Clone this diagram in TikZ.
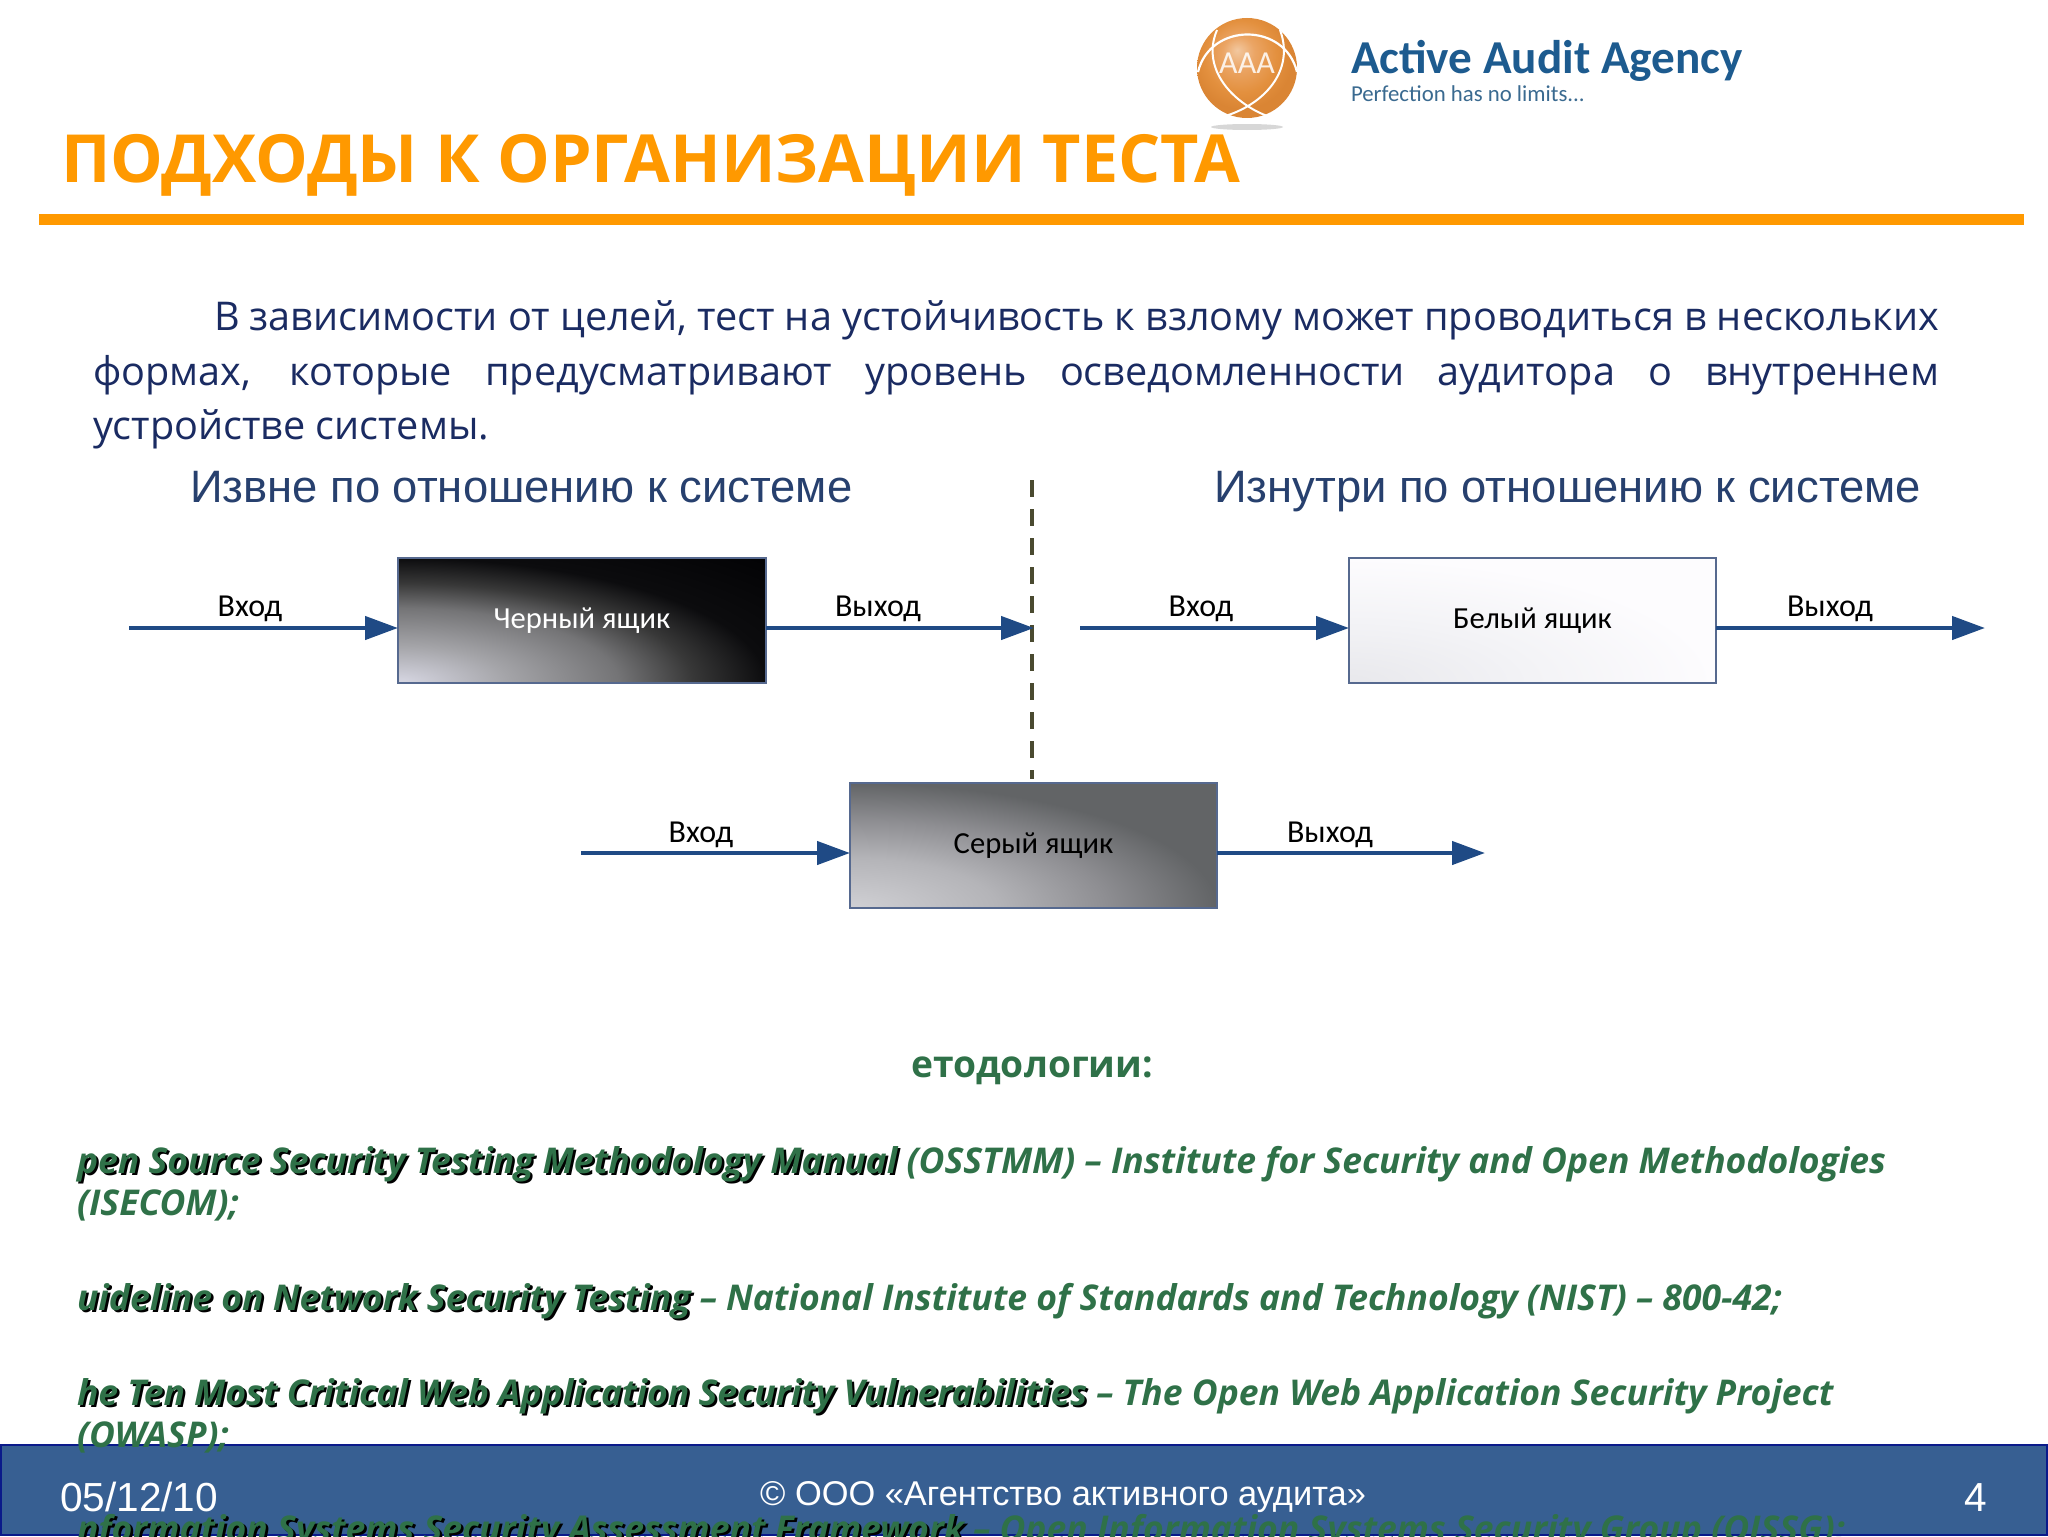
\documentclass[tikz,border=0pt]{standalone}
\usepackage{fontspec}
\setmainfont{Open Sans}
\newfontfamily\carl{Carlito}
\newfontfamily\lib{Liberation Sans}
\usetikzlibrary{arrows.meta}
\definecolor{orng}{HTML}{FF9900}
\definecolor{para}{HTML}{1A2B62}
\definecolor{head}{HTML}{27406E}
\definecolor{grn}{HTML}{2F7148}
\definecolor{arr}{HTML}{1F4A85}
\definecolor{foot}{HTML}{375F92}
\definecolor{footb}{HTML}{0A1A8A}
\definecolor{edge}{HTML}{56698F}
\definecolor{dashc}{HTML}{4A4A30}
\definecolor{logoc}{HTML}{1D5B8F}
\definecolor{logos}{HTML}{3A6A90}
\definecolor{ba}{HTML}{D8D8E4}\definecolor{bb}{HTML}{A4A4A8}\definecolor{bc}{HTML}{747476}\definecolor{bd}{HTML}{383838}\definecolor{be}{HTML}{0C0C0E}\definecolor{bf}{HTML}{020204}
\definecolor{ga}{HTML}{D0D0D4}\definecolor{gb}{HTML}{B4B4B8}\definecolor{gc}{HTML}{8E8E92}\definecolor{gd}{HTML}{626466}
\definecolor{wa}{HTML}{E8E8EC}\definecolor{wb}{HTML}{F3F3F6}\definecolor{wc}{HTML}{FDFCFE}
\definecolor{oa}{HTML}{F2C8A0}\definecolor{ob}{HTML}{EBA565}\definecolor{oc}{HTML}{E3903E}\definecolor{od}{HTML}{DA8534}
\pgfdeclareradialshading{blkshade}{\pgfpointorigin}{color(0bp)=(ba);color(7.5bp)=(bb);color(15bp)=(bc);color(20bp)=(bd);color(25bp)=(be);color(36bp)=(bf);color(50bp)=(bf)}
\pgfdeclareradialshading{gryshade}{\pgfpointorigin}{color(0bp)=(ga);color(10bp)=(gb);color(17.5bp)=(gc);color(25bp)=(gd);color(50bp)=(gd)}
\pgfdeclareradialshading{whtshade}{\pgfpointorigin}{color(0bp)=(wa);color(12.5bp)=(wb);color(25bp)=(wc);color(50bp)=(wc)}
\pgfdeclareradialshading{ballshade}{\pgfqpoint{-5bp}{9bp}}{color(0bp)=(oa);color(8bp)=(ob);color(18bp)=(oc);color(25bp)=(od);color(50bp)=(od)}
\newcommand\shad[1]{\leavevmode\rlap{\kern1.2pt\raisebox{-1.2pt}{\color{black}#1}}#1}
\tikzset{
 x=0.5pt,y=-0.5pt,
 txt/.style={inner sep=0pt,outer sep=0pt,anchor=base west},
 txtc/.style={inner sep=0pt,outer sep=0pt,anchor=base},
 bodyline/.style={txt,text=para,font=\fontsize{19.8}{24}\selectfont},
 headline/.style={txt,text=head,font=\lib\fontsize{22.7}{26}\selectfont},
 listline/.style={txt,text=grn,font=\bfseries\itshape\fontsize{17.75}{22}\selectfont},
 footline/.style={txtc,text=white,font=\lib\fontsize{20.3}{22}\selectfont},
 lbl/.style={txtc,text=black,font=\carl\fontsize{16}{18}\selectfont},
 boxnode/.style={draw=edge,line width=0.6pt,minimum width=#1*0.5pt,minimum height=62.5pt,inner sep=0pt,outer sep=0pt,anchor=south west,font=\carl\fontsize{15.3}{18}\selectfont},
 shadefrom/.style={path picture={\path[shading=#1] ([xshift=-184pt,yshift=-62.5pt]path picture bounding box.south west) rectangle (path picture bounding box.north east);}},
 flow/.style={draw=arr,line width=2.2pt,-{Triangle[length=16.5pt,width=11.5pt]},shorten >=0pt}
}
\begin{document}
\begin{tikzpicture}
\useasboundingbox (0,0) rectangle (2048,1536);
\fill[white] (0,0) rectangle (2048,1536);

% logo
\fill[black!22,opacity=.7] (1247,127) ellipse (36 and 3);
\path[shading=ballshade] (1247,68) ellipse (50 and 50);
\draw[white,line width=1.1pt] (1198,72) .. controls (1210,22) and (1285,22) .. (1297,72);
\draw[white,line width=1pt] (1217,30) .. controls (1200,70) and (1235,105) .. (1270,117);
\draw[white,line width=1pt] (1280,30) .. controls (1295,70) and (1265,105) .. (1222,117);
\node[txtc,text=white,opacity=.85,font=\carl\fontsize{16}{20}\selectfont] (logoA) at (1247,74) {AAA};
\node[txt,text=logoc,font=\carl\bfseries\fontsize{23.6}{26}\selectfont] (logoT) at (1351,74) {Active Audit Agency};
\node[txt,text=logos,font=\carl\fontsize{11.4}{14}\selectfont] (logoS) at (1351,102) {Perfection has no limits...};

% title
\node[txt,text=orng,font=\bfseries\fontsize{33.2}{40}\selectfont] (title) at (61,182) {ПОДХОДЫ К ОРГАНИЗАЦИИ ТЕСТА};
\fill[orng] (39,214) rectangle (2024,225);

% paragraph
\node[bodyline] (p1) at (214,330) {\makebox[862.5pt][s]{В зависимости от целей, тест на устойчивость к взлому может проводиться в нескольких}};
\node[bodyline] (p2) at (93,385) {\makebox[923pt][s]{формах, которые предусматривают уровень осведомленности аудитора о внутреннем}};
\node[bodyline] (p3) at (93,439) {устройстве системы.};

% headings
\node[headline] (h1) at (190,502) {Извне по отношению к системе};
\node[headline] (h2) at (1214,502) {Изнутри по отношению к системе};

% dashed divider
\coordinate (dtop) at (1032,480);
\coordinate (dbot) at (1032,779);
\draw[dashc,line width=2.4pt,dash pattern=on 8.5pt off 6pt] (dtop) -- (dbot);

% boxes
\node[boxnode=368,shadefrom=blkshade,text=white] (bk) at (398,683) {Черный ящик};
\node[boxnode=367,shadefrom=whtshade,text=black] (wh) at (1349,683) {Белый ящик};
\node[boxnode=367,shadefrom=gryshade,text=black] (gr) at (850,908) {Серый ящик};

% arrow ends
\coordinate (a1) at (129,628);
\coordinate (a2) at (1034,628);
\coordinate (a3) at (1080,628);
\coordinate (a4) at (1985,628);
\coordinate (a5) at (581,853);
\coordinate (a6) at (1485,853);
\draw[flow] (a1) -- (bk.west |- a1);
\draw[flow] (bk.east |- a2) -- (a2);
\draw[flow] (a3) -- (wh.west |- a3);
\draw[flow] (wh.east |- a4) -- (a4);
\draw[flow] (a5) -- (gr.west |- a5);
\draw[flow] (gr.east |- a6) -- (a6);

% labels
\node[lbl] (l1) at (250,616) {Вход};
\node[lbl] (l2) at (878,616) {Выход};
\node[lbl] (l3) at (1201,616) {Вход};
\node[lbl] (l4) at (1830,616) {Выход};
\node[lbl] (l5) at (701,842) {Вход};
\node[lbl] (l6) at (1330,842) {Выход};

% footer
\fill[foot] (0,1444) rectangle (2048,1536);
\draw[footb,line width=1.2pt] (0.8,1445) rectangle (2047.2,1535.2);
\node[footline,anchor=base west] (fd) at (60,1511) {05/12/10};
\node[footline,font=\lib\fontsize{17.2}{20}\selectfont] (fc) at (1063,1505) {© ООО «Агентство активного аудита»};
\node[footline] (fn) at (1976,1511) {4};

% methodologies
\node[txtc,text=grn,font=\bfseries\fontsize{18.6}{23}\selectfont] (mt) at (1032,1077) {етодологии:};
\node[listline] (m1) at (77,1173) {\shad{pen Source Security Testing Methodology Manual} (OSSTMM) – Institute for Security and Open Methodologies};
\node[listline] (m1b) at (77,1215) {(ISECOM);};
\node[listline] (m2) at (77,1310) {\shad{uideline on Network Security Testing} – National Institute of Standards and Technology (NIST) – 800-42;};
\node[listline] (m3) at (77,1405) {\shad{he Ten Most Critical Web Application Security Vulnerabilities} – The Open Web Application Security Project};
\node[listline] (m3b) at (77,1447) {(OWASP);};
\node[listline] (m4) at (77,1541) {\shad{nformation Systems Security Assessment Framework} – Open Information Systems Security Group (OISSG);};
\end{tikzpicture}
\end{document}
